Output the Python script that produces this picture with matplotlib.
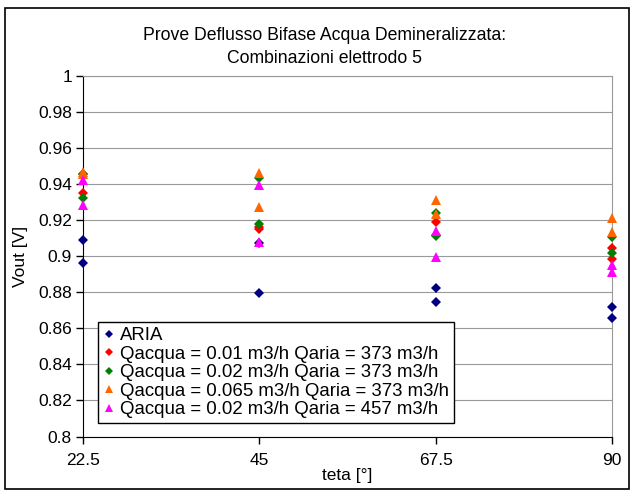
import numpy as np
import matplotlib
matplotlib.use("Agg")
import matplotlib.pyplot as plt
from matplotlib.patches import Rectangle

plt.rcParams['font.family'] = ['Liberation Sans', 'DejaVu Sans']

# angoli (due prove per angolo)
teta = [22.5, 22.5, 45, 45, 67.5, 67.5, 90, 90]

aria = [0.909, 0.896, 0.9076, 0.8796, 0.8824, 0.8746, 0.8717, 0.8657]
q001_373 = [0.9455, 0.9352, 0.9165, 0.9154, 0.919, 0.912, 0.9048, 0.8987]
q002_373 = [0.9454, 0.9324, 0.9432, 0.9178, 0.9241, 0.9111, 0.9107, 0.9018]
q0065_373 = [0.9465, 0.9458, 0.9463, 0.9274, 0.9311, 0.9232, 0.9215, 0.9135]
q002_457 = [0.9422, 0.9283, 0.9398, 0.908, 0.914, 0.8996, 0.895, 0.8913]

labels = ["ARIA",
          "Qacqua = 0.01 m3/h Qaria = 373 m3/h",
          "Qacqua = 0.02 m3/h Qaria = 373 m3/h",
          "Qacqua = 0.065 m3/h Qaria = 373 m3/h",
          "Qacqua = 0.02 m3/h Qaria = 457 m3/h"]
x_ticks = [22.5, 45, 67.5, 90]
y_ticks = [0.8, 0.82, 0.84, 0.86, 0.88, 0.9, 0.92, 0.94, 0.96, 0.98, 1]

fig = plt.figure(figsize=(6.37, 4.93), dpi=100)
ax = fig.add_axes([0.1303, 0.1146, 0.8305, 0.7312])

# bordo esterno del grafico
fig.patches.append(Rectangle((5/637, 4/493), 624/637, 481/493, transform=fig.transFigure,
                             fill=False, edgecolor='black', linewidth=1.2))

series = [aria, q001_373, q002_373, q0065_373, q002_457]
colors = ['#000080', '#FF0000', '#008000', '#FF6600', '#FF00FF']
markers = ['D', 'D', 'D', '^', '^']
sizes = [5.5, 5.5, 5.5, 6.5, 6.5]
for vals, c, m, s, lab in zip(series, colors, markers, sizes, labels):
    ax.plot(teta, vals, linestyle='none', marker=m, color=c, markersize=s,
            markeredgewidth=0, label=lab, clip_on=False, zorder=3)

ax.set_xlim(22.5, 90)
ax.set_ylim(0.8, 1.0)
ax.set_xticks(x_ticks)
ax.set_xticklabels(["22.5", "45", "67.5", "90"])
ax.set_yticks(y_ticks)
ax.set_yticklabels(["0.8", "0.82", "0.84", "0.86", "0.88", "0.9", "0.92", "0.94", "0.96", "0.98", "1"])
ax.tick_params(axis='both', direction='out', length=5, width=1, labelsize=12.5, colors='black')
ax.tick_params(axis='x', pad=7)
ax.tick_params(axis='y', pad=3)

ax.grid(axis='y', color='#999999', linewidth=0.8)
ax.set_axisbelow(True)
ax.spines['left'].set_color('black')
ax.spines['bottom'].set_color('black')
ax.spines['top'].set_color('#999999')
ax.spines['right'].set_color('#999999')

ax.set_xlabel("teta [°]", fontsize=12.5, labelpad=0)
ax.set_ylabel("Vout [V]", fontsize=12.5, labelpad=7)
fig.text(0.51, 0.904, "Prove Deflusso Bifase Acqua Demineralizzata:\nCombinazioni elettrodo 5",
         ha='center', va='center', fontsize=12.7, linespacing=1.45)

leg = ax.legend(loc='lower left', bbox_to_anchor=(0.028, 0.038), borderaxespad=0,
                fontsize=13.4, fancybox=False, framealpha=1, edgecolor='black',
                markerscale=0.8, handlelength=0.7, handletextpad=0.25,
                labelspacing=0.08, borderpad=0.25)
leg.get_frame().set_linewidth(1)

fig.savefig("out.png", dpi=100)
